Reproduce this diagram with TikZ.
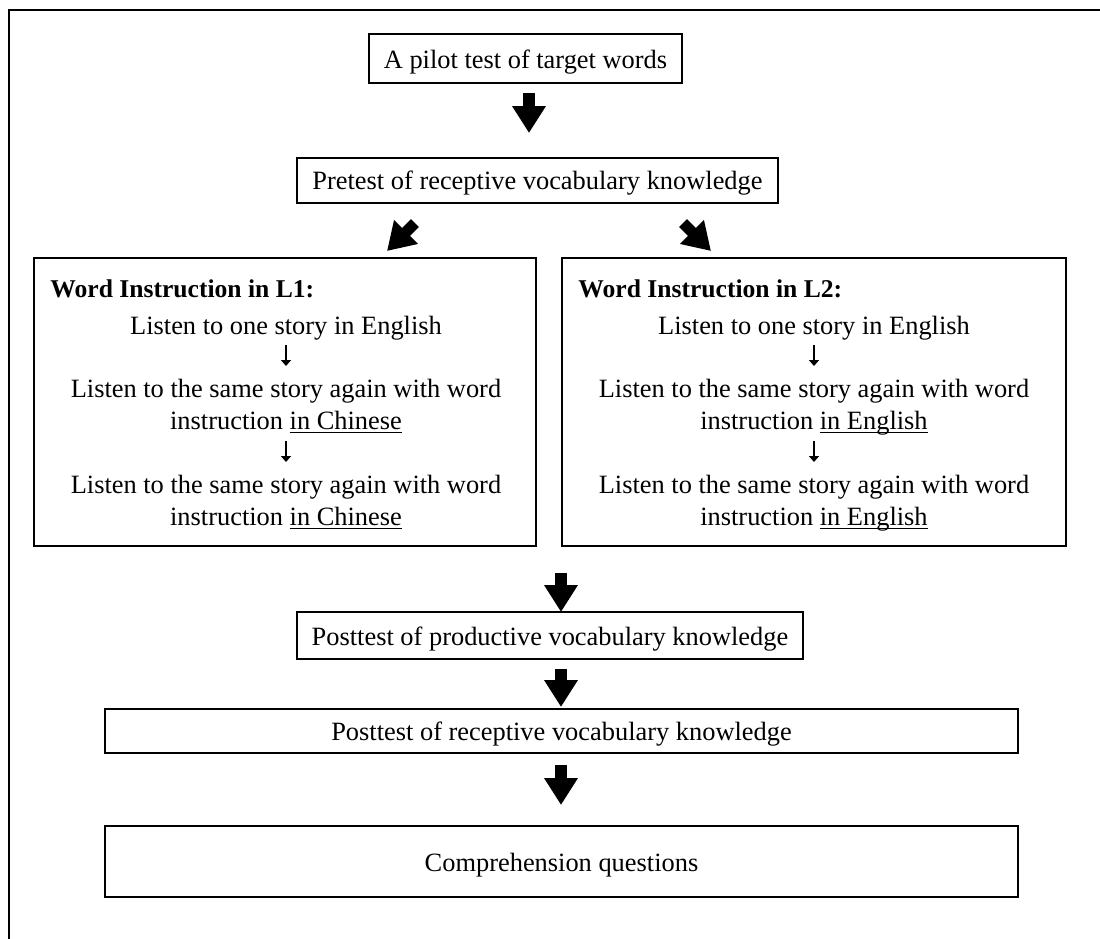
\documentclass[tikz,border=0pt]{standalone}
\usepackage{fontspec}
\setmainfont{Liberation Serif}
\usetikzlibrary{arrows.meta}
\newcommand\diagfont{\fontsize{13.2}{16}\selectfont}
\newcommand\ulin[1]{\setbox0\hbox{#1}\rlap{\rule[-1.6pt]{\wd0}{0.6pt}}\box0}
\begin{document}
\begin{tikzpicture}[x=0.5pt,y=-0.5pt,
  box/.style={draw, line width=1pt, inner sep=0pt, font=\diagfont, text height=11pt, text depth=1.5pt},
  frame/.style={draw, line width=1pt},
  txt/.style={inner sep=0pt, font=\diagfont, anchor=base},
  ttl/.style={inner sep=0pt, font=\fontsize{12.8}{16}\selectfont\bfseries, anchor=base west},
  bigarrow/.style={line width=5.6pt, -{Triangle[width=16pt,length=13.5pt]}},
  smallarrow/.style={line width=1.2pt, -{Triangle[width=5pt,length=3pt]}}]
\useasboundingbox (0,0) rectangle (1100,939);
% outer frame (top and left only)
\coordinate (fb) at (9,939);
\coordinate (fc) at (9,10);
\coordinate (fr) at (1100,10);
\draw[line width=1.2pt] (fb) -- (fc) -- (fr);

% boxes
\node[box, minimum width=156.5pt, minimum height=24.5pt] (pilot) at (525.5,58.5) {A pilot test of target words};
\node[box, minimum width=240.5pt, minimum height=22.5pt] (pre) at (537.5,180) {Pretest of receptive vocabulary knowledge};
\node[frame, minimum width=251pt, minimum height=144pt] (L1) at (285,402) {};
\node[frame, minimum width=252pt, minimum height=144pt] (L2) at (814,402) {};
\node[box, minimum width=253pt, minimum height=23.5pt] (postp) at (550,635.5) {Posttest of productive vocabulary knowledge};
\node[box, minimum width=456.5pt, minimum height=22pt] (postr) at (561.5,731) {Posttest of receptive vocabulary knowledge};
\node[box, minimum width=456.5pt, minimum height=35.5pt] (comp) at (561.5,861.5) {Comprehension questions};

% L1 contents
\node[ttl] (L1t) at (50,297.5) {Word Instruction in L1:};
\node[txt] (L1a) at (286,334.5) {Listen to one story in English};
\node[txt] (L1b) at (286,397.5) {Listen to the same story again with word};
\node[txt] (L1c) at (286,429.5) {instruction \ulin{in Chinese}};
\node[txt] (L1d) at (286,493.5) {Listen to the same story again with word};
\node[txt] (L1e) at (286,525.5) {instruction \ulin{in Chinese}};
% L2 contents
\node[ttl] (L2t) at (578,297.5) {Word Instruction in L2:};
\node[txt] (L2a) at (814,334.5) {Listen to one story in English};
\node[txt] (L2b) at (814,397.5) {Listen to the same story again with word};
\node[txt] (L2c) at (814,429.5) {instruction \ulin{in English}};
\node[txt] (L2d) at (814,493.5) {Listen to the same story again with word};
\node[txt] (L2e) at (814,525.5) {instruction \ulin{in English}};

% small arrows
\coordinate (s1a) at (286,345); \coordinate (s1b) at (286,366);
\coordinate (s2a) at (286,441); \coordinate (s2b) at (286,462);
\coordinate (s3a) at (814,345); \coordinate (s3b) at (814,366);
\coordinate (s4a) at (814,441); \coordinate (s4b) at (814,462);
\draw[smallarrow] (s1a) -- (s1b);
\draw[smallarrow] (s2a) -- (s2b);
\draw[smallarrow] (s3a) -- (s3b);
\draw[smallarrow] (s4a) -- (s4b);

% big arrows
\coordinate (b1a) at (529,93);  \coordinate (b1b) at (529,133);
\coordinate (b2a) at (415,223); \coordinate (b2b) at (387,251);
\coordinate (b3a) at (683,223); \coordinate (b3b) at (711,251);
\coordinate (b4a) at (561,573); \coordinate (b4b) at (561,612);
\coordinate (b5a) at (561,669); \coordinate (b5b) at (561,707);
\coordinate (b6a) at (561,765); \coordinate (b6b) at (561,805);
\draw[bigarrow] (b1a) -- (b1b);
\draw[bigarrow] (b2a) -- (b2b);
\draw[bigarrow] (b3a) -- (b3b);
\draw[bigarrow] (b4a) -- (b4b);
\draw[bigarrow] (b5a) -- (b5b);
\draw[bigarrow] (b6a) -- (b6b);
\end{tikzpicture}
\end{document}
